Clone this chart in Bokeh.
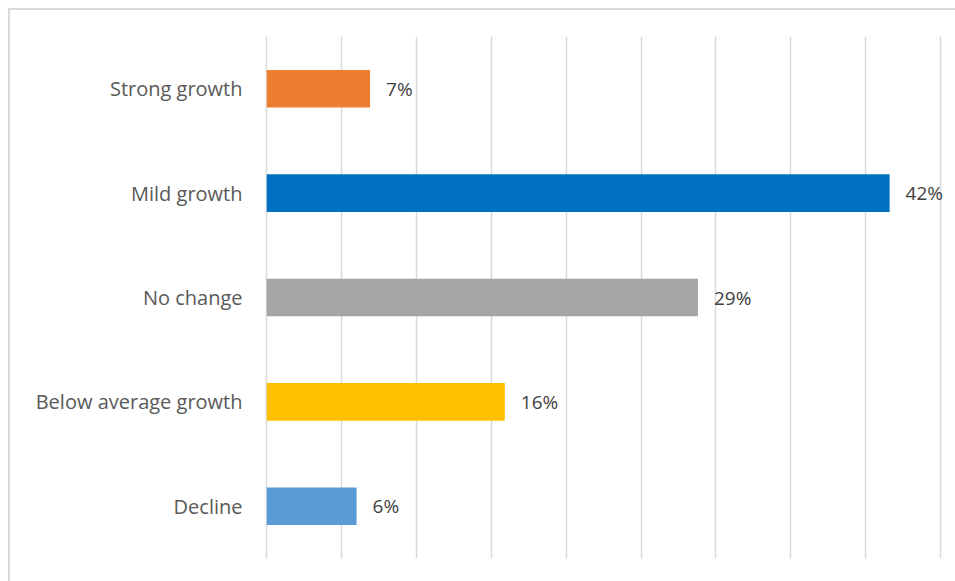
from bokeh.plotting import figure
from bokeh.models import ColumnDataSource, FactorRange, Range1d, FixedTicker
from bokeh.embed import file_html
from bokeh.resources import INLINE
from bokeh.core.properties import value

categories = ["Strong growth", "Mild growth", "No change", "Below average growth", "Decline"]
values = [6.9, 41.6, 28.8, 15.9, 6.0]
colors = ["#ED7D31", "#0070C0", "#A5A5A5", "#FFC000", "#5B9BD5"]
labels = [f"{round(v)}%" for v in values]
grid_ticks = [0, 5, 10, 15, 20, 25, 30, 35, 40, 45]

src = ColumnDataSource(dict(cat=categories, val=values, color=colors, label=labels))

p = figure(width=947, height=573, margin=(8, 0, 0, 8),
           y_range=FactorRange(factors=list(reversed(categories))),
           x_range=Range1d(-0.15, 46),
           output_backend="svg", toolbar_location=None,
           min_border_left=254, min_border_right=2, min_border_top=26, min_border_bottom=25)
p.styles = {"border-top": "2px solid #d9d9d9", "border-left": "2px solid #d9d9d9"}

p.hbar(y="cat", right="val", left=0, height=0.36, fill_color="color", line_color=None, source=src)
p.text(x="val", y="cat", text="label", source=src, x_offset=16, text_baseline="middle",
       text_font=value("Open Sans"), text_font_size="19px", text_color="#404040")

p.outline_line_color = None
p.xaxis.visible = False
p.xgrid.ticker = FixedTicker(ticks=grid_ticks)
p.xgrid.grid_line_color = "#d9d9d9"
p.xgrid.grid_line_width = 1.5
p.ygrid.grid_line_color = None

p.yaxis.axis_line_color = None
p.yaxis.major_tick_line_color = None
p.yaxis.minor_tick_line_color = None
p.yaxis.major_label_standoff = 16
p.yaxis.major_label_text_font = "Open Sans"
p.yaxis.major_label_text_font_size = "20px"
p.yaxis.major_label_text_color = "#595959"
p.yaxis.major_label_text_font_style = "normal"

open("out.html", "w").write(file_html(p, INLINE))
